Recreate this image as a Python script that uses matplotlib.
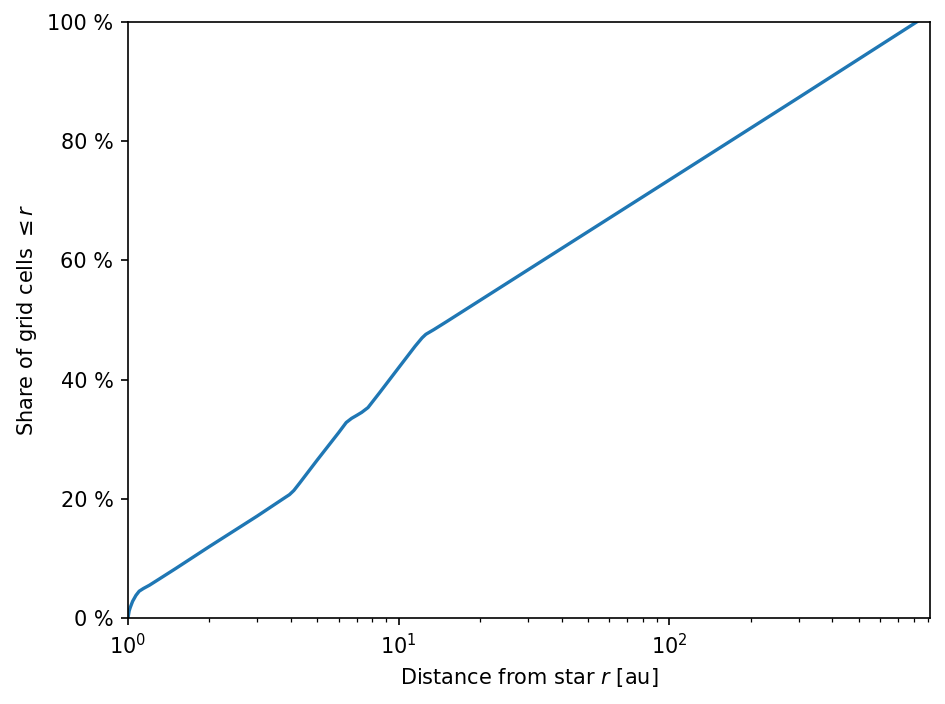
import matplotlib
matplotlib.use("Agg")
import matplotlib.pyplot as plt
from matplotlib.ticker import FuncFormatter

r_au = [1.0, 1.01, 1.02, 1.04, 1.07, 1.1, 1.14, 1.2, 1.3, 1.5, 2.0, 3.0, 3.8,
        3.95, 4.1, 4.3, 5.0, 6.0, 6.4, 6.7, 7.0, 7.3, 7.7, 8.5, 10.0, 11.5,
        12.2, 12.6, 13.5, 15.0, 30.0, 100.0, 300.0, 819.0]
share_pct = [0.0, 1.2, 1.8, 2.8, 3.8, 4.5, 4.95, 5.5, 6.5, 8.3, 12.0, 17.1, 20.2,
             20.7, 21.4, 22.6, 26.5, 31.1, 32.8, 33.5, 34.0, 34.5, 35.3, 37.8, 42.0, 45.6,
             47.0, 47.6, 48.4, 49.7, 58.4, 73.5, 87.3, 100.0]
y_ticks = [0, 20, 40, 60, 80, 100]

fig = plt.figure(figsize=(6.3, 704 / 150), dpi=150)
ax = fig.add_axes([128 / 945, (704 - 618) / 704, (930 - 128) / 945, (618 - 22) / 704])
ax.plot(r_au, share_pct, color="#1f77b4", lw=1.6)
ax.set_xscale("log")
ax.set_xlim(1, 918)
ax.set_ylim(0, 100)
ax.set_yticks(y_ticks)
ax.yaxis.set_major_formatter(FuncFormatter(lambda v, p: f"{v:.0f} %"))
ax.set_xlabel(r"Distance from star $r$ [au]")
ax.set_ylabel(r"Share of grid cells $\leq r$")
fig.savefig("out.png", dpi=150)
